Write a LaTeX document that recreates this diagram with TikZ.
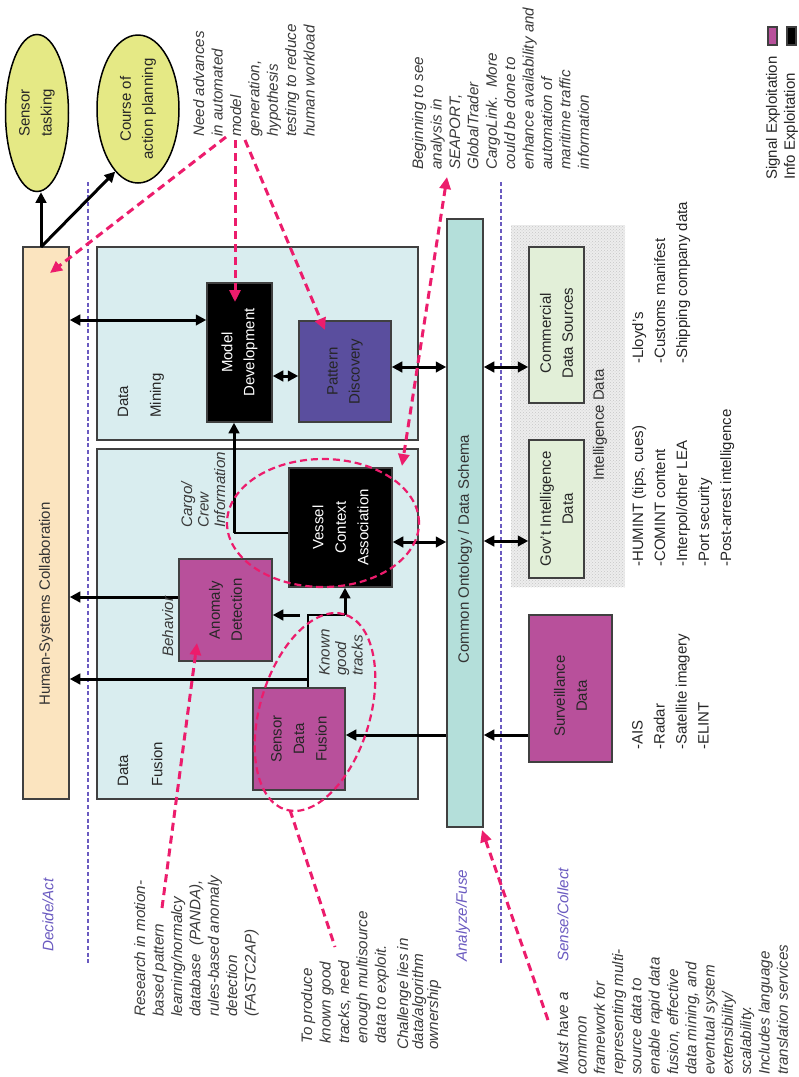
\documentclass[tikz,border=0pt]{standalone}
\usepackage{fontspec}
\setmainfont{Liberation Sans}
\usetikzlibrary{arrows.meta,patterns,shapes.geometric}

\definecolor{hscfill}{HTML}{FBE4BF}
\definecolor{panel}{HTML}{D9EDEF}
\definecolor{ontofill}{HTML}{B4DFDA}
\definecolor{sigmag}{HTML}{B8509B}
\definecolor{patpurple}{HTML}{5A4E9E}
\definecolor{srcgreen}{HTML}{E2EFD8}
\definecolor{goal}{HTML}{E5E985}
\definecolor{hot}{HTML}{EC1C6C}
\definecolor{phase}{HTML}{6A5AC0}
\definecolor{frame}{HTML}{404040}
\definecolor{notegray}{HTML}{3A3A3A}

\newcommand\lblfont{\fontsize{15}{22}\selectfont}
\newcommand\notefont{\fontsize{15.2}{18.4}\selectfont\itshape}

\begin{document}
\begin{tikzpicture}[x=1pt,y=-1pt,
  box/.style={draw=frame, line width=1.5pt, rotate=90, align=center, font=\lblfont, inner sep=2pt, text=black!85},
  goalnode/.style={ellipse, draw=black, line width=1.5pt, fill=goal, rotate=90, align=center, font=\lblfont, inner sep=0pt, text=black!85},
  flow/.style={line width=3pt, -{Triangle[length=10.5pt,width=10.5pt]}},
  flowboth/.style={line width=3pt, {Triangle[length=10.5pt,width=10.5pt]}-{Triangle[length=10.5pt,width=10.5pt]}},
  link/.style={line width=1.5pt},
  hotline/.style={draw=hot, line width=3pt, dash pattern=on 8pt off 5pt},
  hotarrow/.style={hotline, -{Triangle[length=12pt,width=11pt]}},
  hotboth/.style={hotline, {Triangle[length=12pt,width=11pt]}-{Triangle[length=12pt,width=11pt]}},
  hotring/.style={draw=hot, line width=2.2pt, dash pattern=on 7pt off 4pt},
  phaseline/.style={draw=phase, line width=2.8pt, dash pattern=on 4pt off 2.7pt},
  phaselbl/.style={rotate=90, anchor=west, inner sep=0pt, text=phase, font=\fontsize{15.2}{18}\selectfont\itshape},
  note/.style={rotate=90, anchor=north west, inner sep=0pt, align=left, text=notegray, font=\notefont},
  listtxt/.style={rotate=90, anchor=north west, inner sep=0pt, align=left, text=black!85, font=\lblfont},
  tag/.style={rotate=90, anchor=west, inner sep=0pt, text=black!85, font=\lblfont},
]
\useasboundingbox (0,0) rectangle (799,1077);

% ---------- phase separators ----------
\coordinate (decTop) at (88,182);
\coordinate (decBot) at (88,965);
\coordinate (senTop) at (501,182);
\coordinate (senBot) at (501,965);
\draw[phaseline] (decTop) -- (decBot);
\draw[phaseline] (senTop) -- (senBot);
\node[phaselbl] (decide) at (48,952) {Decide/Act};
\node[phaselbl] (analyze) at (463,962) {Analyze/Fuse};
\node[phaselbl] (sense) at (563,962) {Sense/Collect};

% ---------- decide / act ----------
\node[goalnode, minimum width=157pt, minimum height=63pt] (sensor) at (37,113) {Sensor\\tasking};
\node[goalnode, minimum width=148pt, minimum height=82pt] (coa) at (138,109) {Course of\\action planning};
\node[box, fill=hscfill, minimum width=552pt, minimum height=46pt] (hsc) at (46,523) {};
\node[rotate=90, font=\lblfont, text=black!80] (hsclbl) at (46,604) {Human-Systems Collaboration};

% ---------- analyze / fuse panels ----------
\node[box, fill=panel, minimum width=193pt, minimum height=321pt] (mining) at (257.5,343.5) {};
\node[box, fill=panel, minimum width=350pt, minimum height=321pt] (fusion) at (257.5,624) {};
\node[tag] (dmA) at (123,418) {Data};
\node[tag] (dmB) at (157,418) {Mining};
\node[tag] (dfA) at (123,787) {Data};
\node[tag] (dfB) at (157,787) {Fusion};

\node[box, fill=black, text=white, minimum width=139pt, minimum height=65pt] (model) at (239.5,352.5) {Model\\Development};
\node[box, fill=patpurple, minimum width=101pt, minimum height=92pt] (pattern) at (345,371.5) {Pattern\\Discovery};
\node[box, fill=black, text=white, minimum width=119pt, minimum height=103pt, font=\fontsize{15}{22.5}\selectfont] (vessel) at (340.5,527.5) {Vessel\\Context\\Association};
\node[box, fill=sigmag, minimum width=102pt, minimum height=93pt] (anomaly) at (225.5,610) {Anomaly\\Detection};
\node[box, fill=sigmag, minimum width=102pt, minimum height=92pt, font=\fontsize{15}{22.5}\selectfont] (sdf) at (299,739) {Sensor\\Data\\Fusion};

\node[box, fill=ontofill, minimum width=608pt, minimum height=36pt] (onto) at (465,523) {};
\node[rotate=90, font=\lblfont, text=black!80] (ontolbl) at (465,549) {Common Ontology / Data Schema};

% ---------- sense / collect ----------
\node[rotate=90, minimum width=362pt, minimum height=114pt, inner sep=0pt,
      preaction={fill=gray!14}, pattern=crosshatch dots, pattern color=gray!45] (intel) at (568,406) {};
\node[rotate=90, font=\lblfont, text=black!80] (intellbl) at (600,425) {Intelligence Data};
\node[box, fill=srcgreen, minimum width=156pt, minimum height=55pt] (comm) at (556.5,325) {};
\node[rotate=90, align=center, font=\lblfont, text=black!85] (commlbl) at (556.5,333) {Commercial\\Data Sources};
\node[box, fill=srcgreen, minimum width=138pt, minimum height=55pt] (gov) at (556.5,509) {Gov’t Intelligence\\Data};
\node[box, fill=sigmag, minimum width=147pt, minimum height=83pt] (surv) at (570.5,688.5) {};
\node[rotate=90, align=center, font=\lblfont, text=black!85] (survlbl) at (570.5,696) {Surveillance\\Data};

\node[listtxt] (commlist) at (632,364) {-Lloyd’s\\-Customs manifest\\-Shipping company data};
\node[listtxt] (govlist) at (632,567) {-HUMINT (tips, cues)\\-COMINT content\\-Interpol/other LEA\\-Port security\\-Post-arrest intelligence};
\node[listtxt] (survlist) at (632,750) {-AIS\\-Radar\\-Satellite imagery\\-ELINT};

% ---------- legend ----------
\node[box, fill=sigmag, minimum width=18pt, minimum height=9pt, inner sep=0pt] (legsig) at (772.5,36) {};
\node[box, fill=black, minimum width=18pt, minimum height=9pt, inner sep=0pt] (leginfo) at (791.5,36) {};
\node[tag] (legsigtxt) at (773,180) {Signal Exploitation};
\node[tag] (leginfotxt) at (791,180) {Info Exploitation};

% ---------- flows ----------
\coordinate (hscTop) at (41,247);
\draw[flow] (hscTop) -- (hscTop |- sensor.west);
\draw[flow] (hscTop) -- (coa.160);
\draw[flowboth] (hsc.south |- 0,320) -- (model.north |- 0,320);
\draw[flowboth] (model.south |- 0,376) -- (pattern.north |- 0,376);
\draw[flowboth] (pattern.south |- 0,367) -- (onto.north |- 0,367);
\draw[flowboth] (vessel.south |- 0,542) -- (onto.north |- 0,542);
\draw[flowboth] (onto.south |- 0,367) -- (comm.north |- 0,367);
\draw[flowboth] (onto.south |- 0,541) -- (gov.north |- 0,541);
\draw[flow] (surv.north |- 0,735) -- (onto.south |- 0,735);
\draw[flow] (onto.north |- 0,735) -- (sdf.south |- 0,735);

% cargo / crew information
\coordinate (cargoJoin) at (234,533);
\draw[link] (vessel.north |- cargoJoin) -- (cargoJoin);
\draw[flow] (cargoJoin) -- (model.west -| cargoJoin);

% behavior
\draw[flow] (anomaly.north |- 0,597) -- (hsc.south |- 0,597);

% known good tracks
\coordinate (kgt) at (308,615);
\coordinate (kgtR) at (345,615);
\coordinate (kgtA) at (300,615);
\draw[link] (kgt |- sdf.east) -- (kgt) -- (kgtR);
\draw[flow] (kgtR) -- (kgtR |- vessel.west);
\draw[flow] (kgtA) -- (anomaly.south |- kgtA);
\draw[flow] (kgt |- 0,679) -- (hsc.south |- 0,679);

% ---------- highlight rings ----------
\draw[hotring] (323,523) ellipse [x radius=96pt, y radius=64pt];
\draw[hotring, rotate around={73.3:(315,712)}] (315,712) ellipse [x radius=102pt, y radius=55pt];

% ---------- annotations ----------
\node[note] (needtxt) at (193,137) {Need advances\\in automated\\model\\generation,\\hypothesis\\testing to reduce\\human workload};
\node[note] (begintxt) at (412,170) {Beginning to see\\analysis in\\SEAPORT,\\GlobalTrader\\CargoLink.\ \ More\\could be done to\\enhance availability and\\automation of\\maritime traffic\\information};
\node[note] (researchtxt) at (134,1017) {Research in motion-\\based pattern\\learning/normalcy\\database\ \ (PANDA),\\rules-based anomaly\\detection\\(FASTC2AP)};
\node[note] (producetxt) at (301,1044) {To produce\\known good\\tracks, need\\enough multisource\\data to exploit.};
\node[note, font=\fontsize{15.2}{15}\selectfont\itshape] (challengetxt) at (397,1050) {Challenge lies in\\data/algorithm\\ownership};
\node[note, font=\fontsize{15.2}{18.3}\selectfont\itshape] (musttxt) at (557,1075) {Must have a\\common\\framework for\\representing multi-\\source data to\\enable rapid data\\fusion, effective\\data mining, and\\eventual system\\extensibility/\\scalability.\\Includes language\\translation services};
\node[note, font=\fontsize{15.2}{16.5}\selectfont\itshape] (cargotxt) at (181,528) {Cargo/\\Crew\\Information};
\node[note] (behaviortxt) at (162,657) {Behavior};
\node[note, font=\fontsize{15.2}{16.5}\selectfont\itshape] (knowntxt) at (319,676) {Known\\good\\tracks};

% ---------- annotation pointers ----------
\coordinate (needA) at (226,137);
\coordinate (needB) at (235,140);
\coordinate (needC) at (245,140);
\coordinate (hscHit) at (50,273);
\coordinate (modelHit) at (235,302);
\coordinate (patternHit) at (325,330);
\draw[hotarrow] (needA) -- (hscHit);
\draw[hotarrow] (needB) -- (modelHit);
\draw[hotarrow] (needC) -- (patternHit);

\coordinate (beginA) at (447,177);
\coordinate (vesselHit) at (402,466);
\draw[hotboth] (beginA) -- (vesselHit);

\coordinate (researchA) at (162,908);
\coordinate (anomalyHit) at (197,643);
\draw[hotarrow] (researchA) -- (anomalyHit);

\coordinate (ringFoot) at (290,810);
\coordinate (produceA) at (335,947);
\draw[hotline] (ringFoot) -- (produceA);

\coordinate (mustA) at (548,1020);
\coordinate (ontoHit) at (482,830);
\draw[hotarrow] (mustA) -- (ontoHit);

\end{tikzpicture}
\end{document}
